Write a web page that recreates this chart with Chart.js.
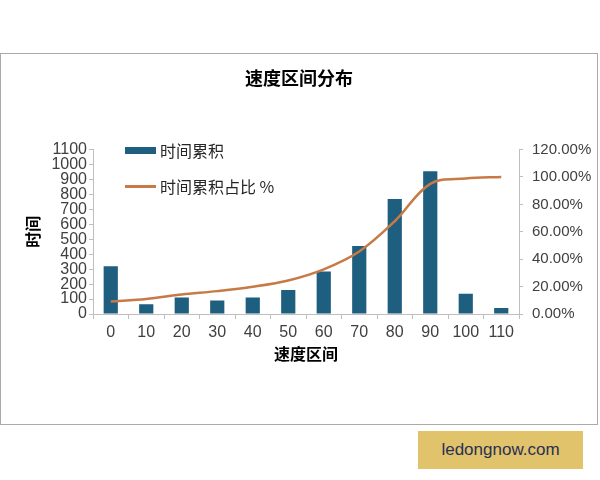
<!DOCTYPE html>
<html>
<head>
<meta charset="utf-8">
<script src="https://cdn.jsdelivr.net/npm/chart.js@4"></script>
<style>
body { margin: 0; background: #fff; width: 600px; height: 480px; position: relative; font-family: "Liberation Sans", "Noto Sans CJK SC", sans-serif; }
#frame { position: absolute; left: 0; top: 53px; width: 596px; height: 370px; border: 1px solid #aaaaaa; }
#legend { position: absolute; left: 125px; top: 141px; font-family: "Noto Sans CJK SC", sans-serif; font-size: 16px; color: #262626; }
.item { height: 18px; line-height: 18px; display: flex; align-items: center; margin-bottom: 18px; }
.swatch { width: 31px; margin-right: 4px; }
#mark { position: absolute; left: 418px; top: 431px; width: 165px; height: 38px; background: #e0c36a; color: #2b2f55; font-family: "Liberation Sans", sans-serif; font-size: 17px; text-align: center; line-height: 38px; }
</style>
</head>
<body>
<div id="frame"><canvas id="speedChart" width="596" height="370"></canvas></div>
<div id="legend">
  <div class="item"><span class="swatch" style="height:7px;background:#1e5e7e"></span>时间累积</div>
  <div class="item"><span class="swatch" style="height:3px;background:#c77a45"></span>时间累积占比 %</div>
</div>
<div id="mark">ledongnow.com</div>
<script>
var speedLabels = ['0', '10', '20', '30', '40', '50', '60', '70', '80', '90', '100', '110'];
var timeTotals = [320, 65, 110, 90, 110, 160, 285, 455, 770, 955, 135, 40];
var cumulativePct = [9.2, 11.0, 14.2, 16.7, 19.9, 24.5, 32.6, 45.6, 67.7, 95.0, 98.9, 100];

var tickFont = { family: 'Liberation Sans', size: 16 };
var tickColor = '#404040';
var axisGray = '#bfbfbf';

var ctx = document.getElementById('speedChart').getContext('2d');
var speedChart = new Chart(ctx, {
    type: 'bar',
    data: {
        labels: speedLabels,
        datasets: [
            {
                type: 'line',
                label: '时间累积占比 %',
                data: cumulativePct,
                yAxisID: 'y2',
                borderColor: '#c77a45',
                borderWidth: 2.5,
                pointRadius: 0,
                tension: 0.35,
                fill: false,
                order: 0
            },
            {
                label: '时间累积',
                data: timeTotals,
                yAxisID: 'y',
                backgroundColor: '#1e5e7e',
                barPercentage: 0.4,
                categoryPercentage: 1,
                order: 1
            }
        ]
    },
    options: {
        responsive: false,
        animation: false,
        layout: { padding: { left: 0, right: 0, top: 0, bottom: 50 } },
        scales: {
            x: {
                offset: true,
                grid: { offset: true, drawOnChartArea: false, drawTicks: true, tickLength: 5, color: axisGray },
                border: { color: axisGray },
                ticks: { color: tickColor, font: tickFont, padding: 4, maxRotation: 0, autoSkip: false },
                title: { display: true, text: '速度区间', color: '#000', font: { family: 'Noto Sans CJK SC', size: 16, weight: 'bold' }, padding: { top: 0, bottom: 10 } },
                afterFit: function (scale) { scale.height = 60; }
            },
            y: {
                position: 'left',
                min: 0,
                max: 1100,
                ticks: {
                    stepSize: 100,
                    autoSkip: false,
                    color: tickColor,
                    font: tickFont,
                    padding: 2,
                    callback: function (v) { return String(v); }
                },
                grid: { drawOnChartArea: false, tickLength: 4, color: axisGray },
                border: { color: axisGray },
                title: { display: true, text: '时间', color: '#000', font: { family: 'Noto Sans CJK SC', size: 16, weight: 'bold' }, padding: { top: 22, bottom: 0 } },
                afterFit: function (scale) { scale.width = 92; }
            },
            y2: {
                position: 'right',
                min: 0,
                max: 120,
                ticks: {
                    stepSize: 20,
                    autoSkip: false,
                    color: tickColor,
                    font: { family: 'Liberation Sans', size: 15 },
                    padding: 9,
                    callback: function (v) { return v.toFixed(2) + '%'; }
                },
                grid: { drawOnChartArea: false, tickLength: 4, color: axisGray },
                border: { color: axisGray },
                afterFit: function (scale) { scale.width = 78; }
            }
        },
        plugins: {
            legend: { display: false },
            tooltip: { enabled: false },
            title: {
                display: true,
                text: '速度区间分布',
                color: '#000',
                font: { family: 'Noto Sans CJK SC', size: 18, weight: 'bold' },
                padding: { top: 13, bottom: 61 }
            }
        }
    }
});
</script>
</body>
</html>
